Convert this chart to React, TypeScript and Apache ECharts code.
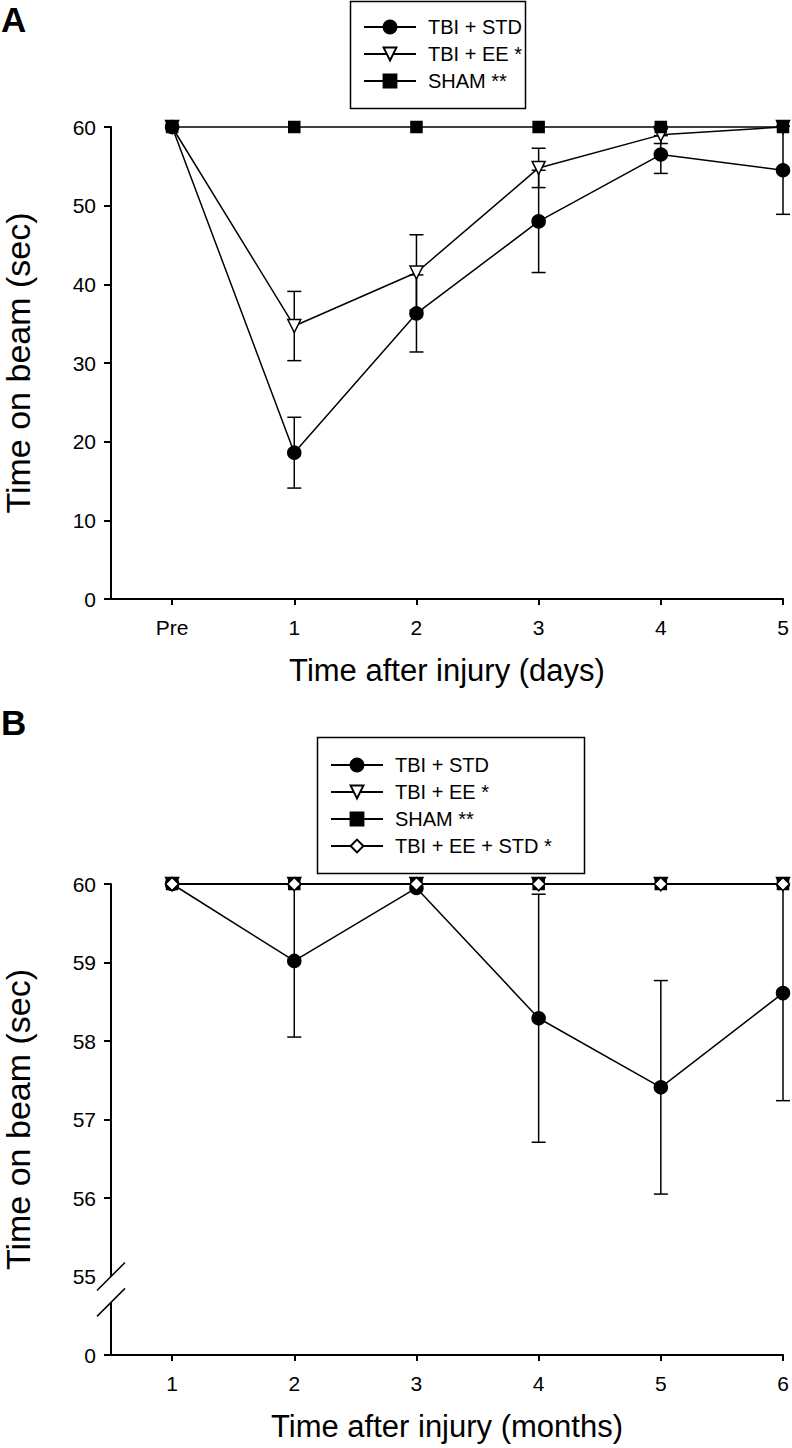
import { useEffect, useRef } from 'react';
import * as echarts from 'echarts';

// ---------- Panel A (days) ----------
const daysX = [0, 1, 2, 3, 4, 5];
const dayLabels = ['Pre', '1', '2', '3', '4', '5'];
const stdA = [60, 18.6, 36.3, 48.0, 56.5, 54.5];
const stdAErr = [0, 4.5, 4.9, 6.5, 2.4, 5.6];
const eeA = [60, 34.7, 41.5, 54.8, 59.0, 60];
const eeAErr = [0, 4.4, 4.8, 2.5, 1.1, 0];
const shamA = [60, 60, 60, 60, 60, 60];
const yTicksA = [0, 10, 20, 30, 40, 50, 60];

// ---------- Panel B (months) ----------
const monthsX = [1, 2, 3, 4, 5, 6];
const stdB = [60, 59.02, 59.95, 58.29, 57.41, 58.61];
const stdBErr = [0, 0.97, 0, 1.58, 1.36, 1.37];
const eeB = [60, 60, 60, 60, 60, 60];
const shamB = [60, 60, 60, 60, 60, 60];
const eeStdB = [60, 60, 60, 60, 60, 60];
// 54 stands for the broken-axis "0"
const yTicksB = [54, 55, 56, 57, 58, 59, 60];
const yTickMarksB = [54, 56, 57, 58, 59, 60];

const legendA = ['TBI + STD', 'TBI + EE *', 'SHAM **'];
const legendB = ['TBI + STD', 'TBI + EE *', 'SHAM **', 'TBI + EE + STD *'];

const FONT = '"Liberation Sans", Arial, Helvetica, sans-serif';
const BLACK = '#000';

const pts = (xs: number[], ys: number[]) => xs.map((x, i) => [x, ys[i]]);
const errPts = (xs: number[], ys: number[], es: number[]) =>
  xs
    .map((x, i) => [x, ys[i] - es[i], ys[i] + es[i], es[i]])
    .filter((d) => d[3] > 0)
    .map((d) => [d[0], d[1], d[2]]);

const errRender = (params: any, api: any) => {
  const x = api.value(0);
  const lo = api.value(1);
  const hi = api.value(2);
  const p1 = api.coord([x, hi]);
  const p2 = api.coord([x, lo]);
  const w = 7;
  const st = { stroke: BLACK, lineWidth: 1.5 };
  return {
    type: 'group',
    children: [
      { type: 'line', shape: { x1: p1[0], y1: p1[1], x2: p2[0], y2: p2[1] }, style: st },
      { type: 'line', shape: { x1: p1[0] - w, y1: p1[1], x2: p1[0] + w, y2: p1[1] }, style: st },
      { type: 'line', shape: { x1: p2[0] - w, y1: p2[1], x2: p2[0] + w, y2: p2[1] }, style: st },
    ],
  };
};

const lineSeries = (
  name: string,
  data: number[][],
  symbol: string,
  fill: string,
  size: number,
  idx: number,
  rotate = 0
) => ({
  type: 'line',
  name,
  data,
  xAxisIndex: idx,
  yAxisIndex: idx,
  symbol,
  symbolSize: size,
  symbolRotate: rotate,
  showAllSymbol: true,
  clip: false,
  lineStyle: { color: BLACK, width: 1.5 },
  itemStyle: { color: fill, borderColor: BLACK, borderWidth: 1.5 },
  emphasis: { disabled: true },
  z: 3,
});

let errCount = 0;
const errSeries = (data: number[][], idx: number) => ({
  type: 'custom',
  name: 'errbar' + idx + '_' + errCount++,
  data,
  xAxisIndex: idx,
  yAxisIndex: idx,
  encode: { x: 0, y: [1, 2] },
  renderItem: errRender,
  clip: false,
  z: 2,
  silent: true,
});

const axisCommon = {
  axisLine: { show: true, onZero: false, lineStyle: { color: BLACK, width: 2 } },
  axisTick: { show: true, inside: false, length: 7, lineStyle: { color: BLACK, width: 2 } },
  splitLine: { show: false },
  axisLabel: { color: BLACK, fontSize: 21, fontFamily: FONT },
  nameTextStyle: { color: BLACK, fontSize: 31, fontFamily: FONT },
};
const yNameStyle = { color: BLACK, fontSize: 34, fontFamily: FONT };

export default function App() {
  const ref = useRef<HTMLDivElement>(null);

  useEffect(() => {
    if (!ref.current) return;
    const chart = echarts.init(ref.current, undefined, { renderer: 'svg' });

    const legendCommon = {
      orient: 'vertical',
      itemWidth: 52,
      itemHeight: 16,
      itemGap: 7,
      padding: 0,
      selectedMode: false,
      textStyle: {
        color: BLACK,
        fontSize: 20,
        fontFamily: FONT,
        lineHeight: 20,
        padding: [0, 0, 0, 7],
      },
    };

    const option: any = {
      animation: false,
      backgroundColor: '#fff',
      grid: [
        { left: 111, right: 9, top: 127, height: 472, containLabel: false, outerBoundsMode: 'none' },
        { left: 111, right: 9, top: 884, height: 471, containLabel: false, outerBoundsMode: 'none' },
      ],
      xAxis: [
        {
          ...axisCommon,
          type: 'value',
          gridIndex: 0,
          min: -0.5,
          max: 5,
          name: 'Time after injury (days)',
          nameLocation: 'middle',
          nameGap: 56,
          axisTick: { ...axisCommon.axisTick, length: 6, customValues: daysX },
          axisLabel: {
            ...axisCommon.axisLabel,
            margin: 18,
            customValues: daysX,
            formatter: (v: number) => dayLabels[daysX.indexOf(v)] ?? '',
          },
        },
        {
          ...axisCommon,
          type: 'value',
          gridIndex: 1,
          min: 0.5,
          max: 6,
          name: 'Time after injury (months)',
          nameLocation: 'middle',
          nameGap: 56,
          axisTick: { ...axisCommon.axisTick, length: 6, customValues: monthsX },
          axisLabel: {
            ...axisCommon.axisLabel,
            margin: 18,
            customValues: monthsX,
            formatter: (v: number) => String(v),
          },
        },
      ],
      yAxis: [
        {
          ...axisCommon,
          type: 'value',
          gridIndex: 0,
          min: 0,
          max: 60,
          interval: 10,
          name: 'Time on beam (sec)',
          nameLocation: 'middle',
          nameGap: 76,
          nameTextStyle: yNameStyle,
          axisTick: { ...axisCommon.axisTick, customValues: yTicksA },
          axisLabel: { ...axisCommon.axisLabel, margin: 15, customValues: yTicksA },
        },
        {
          ...axisCommon,
          type: 'value',
          gridIndex: 1,
          min: 54,
          max: 60,
          interval: 1,
          name: 'Time on beam (sec)',
          nameLocation: 'middle',
          nameGap: 76,
          nameTextStyle: yNameStyle,
          axisTick: { ...axisCommon.axisTick, customValues: yTickMarksB },
          axisLabel: {
            ...axisCommon.axisLabel,
            margin: 15,
            customValues: yTicksB,
            formatter: (v: number) => (v === 54 ? '0' : String(v)),
          },
        },
      ],
      legend: [
        { ...legendCommon, data: legendA, left: 363, top: 17 },
        { ...legendCommon, data: legendB, left: 330, top: 755 },
      ],
      series: [
        errSeries(errPts(daysX, stdA, stdAErr), 0),
        errSeries(errPts(daysX, eeA, eeAErr), 0),
        lineSeries('TBI + STD', pts(daysX, stdA), 'circle', BLACK, 13, 0),
        lineSeries('TBI + EE *', pts(daysX, eeA), 'triangle', '#fff', 13, 0, 180),
        lineSeries('SHAM **', pts(daysX, shamA), 'rect', BLACK, 11, 0),

        errSeries(errPts(monthsX, stdB, stdBErr), 1),
        lineSeries('TBI + STD', pts(monthsX, stdB), 'circle', BLACK, 13, 1),
        lineSeries('TBI + EE *', pts(monthsX, eeB), 'triangle', '#fff', 13, 1, 180),
        lineSeries('SHAM **', pts(monthsX, shamB), 'rect', BLACK, 11, 1),
        lineSeries('TBI + EE + STD *', pts(monthsX, eeStdB), 'diamond', '#fff', 13, 1),
      ],
    };

    chart.setOption(option);

    // axis break marks on panel B y-axis
    const pTop = chart.convertToPixel({ gridIndex: 1 } as any, [0.5, 55]) as number[];
    const pBot = chart.convertToPixel({ gridIndex: 1 } as any, [0.5, 54.67]) as number[];
    const s = 14;
    const slashStyle = { stroke: BLACK, lineWidth: 1.5 };

    chart.setOption({
      graphic: [
        {
          type: 'text',
          left: 1,
          top: 2,
          style: { text: 'A', fontSize: 35, fontWeight: 'bold', fontFamily: FONT, fill: BLACK },
        },
        {
          type: 'text',
          left: 1,
          top: 705,
          style: { text: 'B', fontSize: 35, fontWeight: 'bold', fontFamily: FONT, fill: BLACK },
        },
        {
          type: 'rect',
          shape: { x: 350.5, y: 1.5, width: 175, height: 107 },
          style: { fill: 'none', stroke: BLACK, lineWidth: 1.5 },
          z: 10,
        },
        {
          type: 'rect',
          shape: { x: 317.5, y: 737.5, width: 267, height: 136 },
          style: { fill: 'none', stroke: BLACK, lineWidth: 1.5 },
          z: 10,
        },
        {
          type: 'rect',
          shape: { x: pTop[0] - 3, y: pTop[1], width: 6, height: pBot[1] - pTop[1] },
          style: { fill: '#fff' },
          z: 20,
        },
        {
          type: 'line',
          shape: { x1: pTop[0] - s, y1: pTop[1] + s, x2: pTop[0] + s, y2: pTop[1] - s },
          style: slashStyle,
          z: 21,
        },
        {
          type: 'line',
          shape: { x1: pBot[0] - s, y1: pBot[1] + s, x2: pBot[0] + s, y2: pBot[1] - s },
          style: slashStyle,
          z: 21,
        },
      ],
    });

    return () => chart.dispose();
  }, []);

  return (
    <div
      ref={ref}
      style={{ position: 'fixed', left: 0, top: 0, width: 792, height: 1448, background: '#fff' }}
    />
  );
}
